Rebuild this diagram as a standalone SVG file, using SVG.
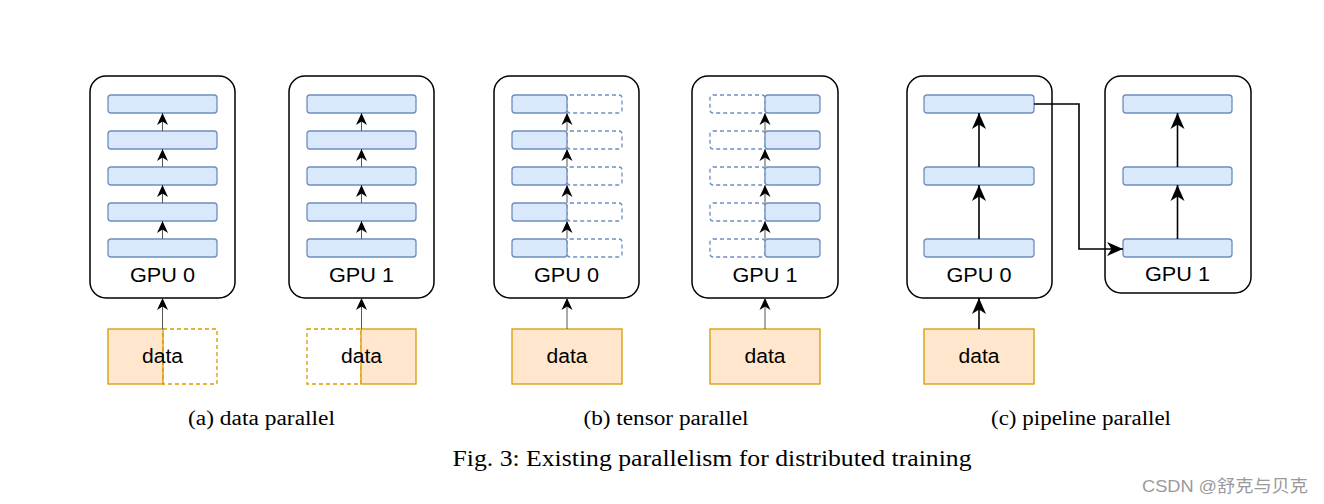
<svg xmlns="http://www.w3.org/2000/svg" width="1324" height="504" viewBox="0 0 1324 504">
<defs>
<style>
.gpu{fill:#fff;stroke:#000;stroke-width:1.5}
.layer{fill:#dae8fc;stroke:#6c8ebf;stroke-width:1.3}
.layerd{fill:none;stroke:#6c8ebf;stroke-width:1.3;stroke-dasharray:4 3}
.data{fill:#ffe6cc;stroke:#d79b00;stroke-width:1.3}
.datad{fill:none;stroke:#d79b00;stroke-width:1.3;stroke-dasharray:4 3}
.lbl{font-family:'Liberation Sans',Arial,sans-serif;font-size:20px;fill:#000;text-anchor:middle}
.cap{font-family:'Liberation Serif','Times New Roman',Times,serif;font-size:20.5px;fill:#000;text-anchor:middle}
.thin{fill:none;stroke:#555;stroke-width:1;marker-end:url(#ah)}
.thick{fill:none;stroke:#000;stroke-width:1.6;marker-end:url(#ahb)}
</style>
<marker id="ah" markerUnits="userSpaceOnUse" viewBox="-12 -6 12 12" refX="0" refY="0" markerWidth="12" markerHeight="12" orient="auto">
<path d="M0,0 L-12,-5.5 L-8.5,0 L-12,5.5 Z" fill="#000"/>
</marker>
<marker id="ahb" markerUnits="userSpaceOnUse" viewBox="-16 -8 16 16" refX="0" refY="0" markerWidth="16" markerHeight="16" orient="auto">
<path d="M0,0 L-16,-7 L-11.5,0 L-16,7 Z" fill="#000"/>
</marker>
</defs>
<rect width="1324" height="504" fill="#fff"/>

<g id="a-gpu0">
<rect class="gpu" x="90" y="76" width="145" height="222" rx="16"/>
<rect class="layer" x="108" y="95" width="109" height="18" rx="3"/>
<rect class="layer" x="108" y="131" width="109" height="18" rx="3"/>
<rect class="layer" x="108" y="167" width="109" height="18" rx="3"/>
<rect class="layer" x="108" y="203" width="109" height="18" rx="3"/>
<rect class="layer" x="108" y="239" width="109" height="18" rx="3"/>
<text class="lbl" x="162.5" y="282" textLength="65" lengthAdjust="spacingAndGlyphs">GPU 0</text>
</g>
<g id="a-gpu1">
<rect class="gpu" x="289" y="76" width="145" height="222" rx="16"/>
<rect class="layer" x="307" y="95" width="109" height="18" rx="3"/>
<rect class="layer" x="307" y="131" width="109" height="18" rx="3"/>
<rect class="layer" x="307" y="167" width="109" height="18" rx="3"/>
<rect class="layer" x="307" y="203" width="109" height="18" rx="3"/>
<rect class="layer" x="307" y="239" width="109" height="18" rx="3"/>
<text class="lbl" x="361.5" y="282" textLength="65" lengthAdjust="spacingAndGlyphs">GPU 1</text>
</g>
<g id="a-data0">
<rect class="data" x="108" y="329" width="55" height="55"/>
<rect class="datad" x="163" y="329" width="54" height="55"/>
<text class="lbl" x="162.5" y="363" textLength="41" lengthAdjust="spacingAndGlyphs">data</text>
</g>
<g id="a-data1">
<rect class="datad" x="307" y="329" width="54" height="55"/>
<rect class="data" x="361" y="329" width="55" height="55"/>
<text class="lbl" x="361.5" y="363" textLength="41" lengthAdjust="spacingAndGlyphs">data</text>
</g>

<g id="b-gpu0">
<rect class="gpu" x="494" y="76" width="145" height="222" rx="16"/>
<rect class="layerd" x="567" y="95" width="55" height="18" rx="3"/>
<rect class="layerd" x="567" y="131" width="55" height="18" rx="3"/>
<rect class="layerd" x="567" y="167" width="55" height="18" rx="3"/>
<rect class="layerd" x="567" y="203" width="55" height="18" rx="3"/>
<rect class="layerd" x="567" y="239" width="55" height="18" rx="3"/>
<rect class="layer" x="512" y="95" width="55" height="18" rx="3"/>
<rect class="layer" x="512" y="131" width="55" height="18" rx="3"/>
<rect class="layer" x="512" y="167" width="55" height="18" rx="3"/>
<rect class="layer" x="512" y="203" width="55" height="18" rx="3"/>
<rect class="layer" x="512" y="239" width="55" height="18" rx="3"/>
<text class="lbl" x="566.5" y="282" textLength="65" lengthAdjust="spacingAndGlyphs">GPU 0</text>
</g>
<g id="b-gpu1">
<rect class="gpu" x="692" y="76" width="146" height="222" rx="16"/>
<rect class="layerd" x="710" y="95" width="55" height="18" rx="3"/>
<rect class="layerd" x="710" y="131" width="55" height="18" rx="3"/>
<rect class="layerd" x="710" y="167" width="55" height="18" rx="3"/>
<rect class="layerd" x="710" y="203" width="55" height="18" rx="3"/>
<rect class="layerd" x="710" y="239" width="55" height="18" rx="3"/>
<rect class="layer" x="765" y="95" width="55" height="18" rx="3"/>
<rect class="layer" x="765" y="131" width="55" height="18" rx="3"/>
<rect class="layer" x="765" y="167" width="55" height="18" rx="3"/>
<rect class="layer" x="765" y="203" width="55" height="18" rx="3"/>
<rect class="layer" x="765" y="239" width="55" height="18" rx="3"/>
<text class="lbl" x="765" y="282" textLength="65" lengthAdjust="spacingAndGlyphs">GPU 1</text>
</g>
<g id="b-data0">
<rect class="data" x="512" y="329" width="110" height="55"/>
<text class="lbl" x="567" y="363" textLength="41" lengthAdjust="spacingAndGlyphs">data</text>
</g>
<g id="b-data1">
<rect class="data" x="710" y="329" width="110" height="55"/>
<text class="lbl" x="765" y="363" textLength="41" lengthAdjust="spacingAndGlyphs">data</text>
</g>

<g id="c-gpu0">
<rect class="gpu" x="907" y="76" width="145" height="222" rx="16"/>
<rect class="layer" x="924" y="95" width="110" height="18" rx="3"/>
<rect class="layer" x="924" y="167" width="110" height="18" rx="3"/>
<rect class="layer" x="924" y="239" width="110" height="18" rx="3"/>
<text class="lbl" x="979" y="282" textLength="65" lengthAdjust="spacingAndGlyphs">GPU 0</text>
</g>
<g id="c-gpu1">
<rect class="gpu" x="1105" y="76" width="146" height="217" rx="16"/>
<rect class="layer" x="1123" y="95" width="109" height="18" rx="3"/>
<rect class="layer" x="1123" y="167" width="109" height="18" rx="3"/>
<rect class="layer" x="1123" y="239" width="109" height="18" rx="3"/>
<text class="lbl" x="1177.5" y="281" textLength="65" lengthAdjust="spacingAndGlyphs">GPU 1</text>
</g>
<g id="c-data0">
<rect class="data" x="924" y="329" width="110" height="55"/>
<text class="lbl" x="979" y="363" textLength="41" lengthAdjust="spacingAndGlyphs">data</text>
</g>

<g id="connectors">
<path class="thin" d="M162.5,131 V113"/><path class="thin" d="M162.5,167 V149"/><path class="thin" d="M162.5,203 V185"/><path class="thin" d="M162.5,239 V221"/>
<path class="thin" d="M162.5,329 V298"/>
<path class="thin" d="M361.5,131 V113"/><path class="thin" d="M361.5,167 V149"/><path class="thin" d="M361.5,203 V185"/><path class="thin" d="M361.5,239 V221"/>
<path class="thin" d="M361.5,329 V298"/>
<path class="thin" d="M567,131 V113"/><path class="thin" d="M567,167 V149"/><path class="thin" d="M567,203 V185"/><path class="thin" d="M567,239 V221"/>
<path class="thin" d="M567,329 V298"/>
<path class="thin" d="M765,131 V113"/><path class="thin" d="M765,167 V149"/><path class="thin" d="M765,203 V185"/><path class="thin" d="M765,239 V221"/>
<path class="thin" d="M765,329 V298"/>
<path class="thick" d="M979,167 V113"/><path class="thick" d="M979,239 V185"/>
<path class="thick" d="M979,329 V298"/>
<path class="thick" d="M1177.5,167 V113"/><path class="thick" d="M1177.5,239 V185"/>
<path class="thick" d="M1034,104 H1079 V249 H1123"/>
</g>

<g id="captions">
<text class="cap" x="261.5" y="425" textLength="147" lengthAdjust="spacingAndGlyphs">(a) data parallel</text>
<text class="cap" x="666" y="425" textLength="165" lengthAdjust="spacingAndGlyphs">(b) tensor parallel</text>
<text class="cap" x="1081" y="425" textLength="180" lengthAdjust="spacingAndGlyphs">(c) pipeline parallel</text>
<text class="cap" x="712" y="466" style="font-size:24px" textLength="519" lengthAdjust="spacingAndGlyphs">Fig. 3: Existing parallelism for distributed training</text>
<text x="1225" y="492" style="font-family:'Liberation Sans','Noto Sans CJK SC',sans-serif;font-size:17px;fill:#9a9a9a;text-anchor:middle" textLength="166" lengthAdjust="spacingAndGlyphs">CSDN @舒克与贝克</text>
</g>
</svg>
